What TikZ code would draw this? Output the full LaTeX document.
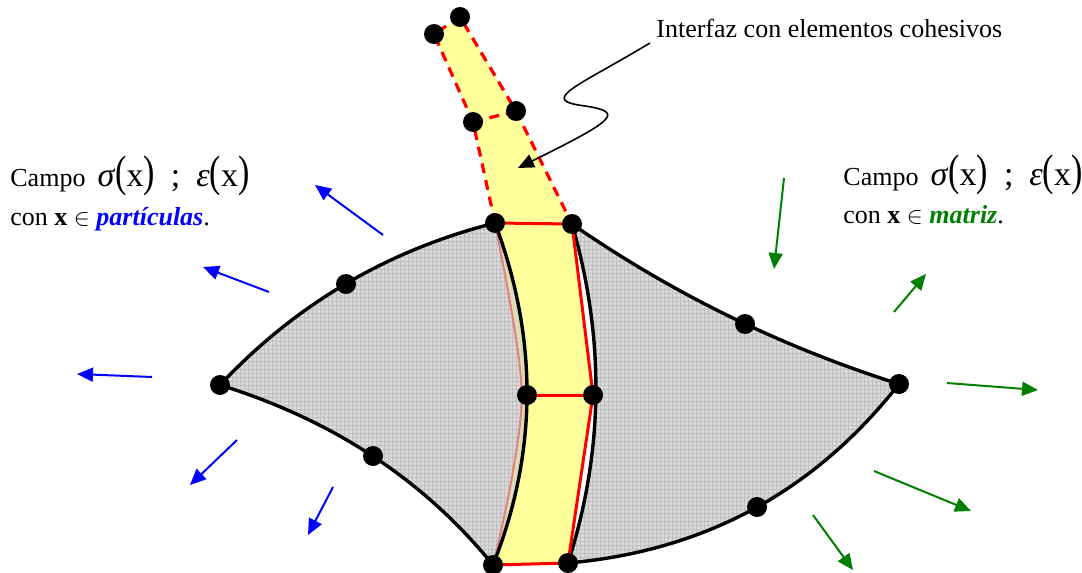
\documentclass[tikz,border=0pt]{standalone}
\usepackage{graphicx}
\usepackage{fontspec}
\setmainfont{Liberation Serif}
\usetikzlibrary{arrows.meta,patterns.meta}

\definecolor{partblue}{RGB}{0,0,255}
\definecolor{matgreen}{RGB}{0,128,0}
\definecolor{bandyellow}{RGB}{255,255,155}
\definecolor{cellgray}{RGB}{218,218,218}
\definecolor{gridgray}{RGB}{192,192,192}
\definecolor{slivercol}{RGB}{222,220,180}
\definecolor{seampink}{RGB}{226,128,128}

% tall parentheses for the field formula
\newcommand\tallparen[1]{\scalebox{1}[1.3]{#1}}
\newcommand\fieldlabel{Campo\hspace{6pt}{\fontsize{17}{17}\selectfont\textit{σ}\tallparen{(}x\tallparen{)}\hspace{8pt};\hspace{8pt}\textit{ε}\tallparen{(}x\tallparen{)}}}

\begin{document}
\begin{tikzpicture}[x=0.5pt,y=-0.5pt,
  dot/.style={circle,fill=black,inner sep=0pt,minimum size=10pt},
  edge/.style={line width=1.7pt,black,line join=round},
  seam/.style={line width=1.5pt,red},
  seamdash/.style={line width=1.6pt,red,dash pattern=on 5pt off 3.5pt},
  load/.style={line width=1pt,-{Triangle[length=8pt,width=7pt]}},
  txt/.style={inner sep=0pt,anchor=base west,font=\fontsize{13}{15}\selectfont},
  cell/.style={fill=cellgray,postaction={pattern={Hatch[angle=0,distance=2pt,line width=0.3pt]},pattern color=gridgray}}]
\useasboundingbox (0,0) rectangle (1082,573);

% mesh points
\coordinate (tA) at (434,34);
\coordinate (tB) at (460,17);
\coordinate (mL) at (473,122);
\coordinate (mR) at (516,111);
\coordinate (A)  at (495,223);
\coordinate (R1) at (572,224);
\coordinate (ML) at (527,395);
\coordinate (MR) at (593,395);
\coordinate (E)  at (493,565);
\coordinate (F)  at (568,563);
\coordinate (B)  at (346,284);
\coordinate (C)  at (220,385);
\coordinate (D)  at (373,456);
\coordinate (G)  at (745,324);
\coordinate (H)  at (899,384);
\coordinate (J)  at (757,507);
\coordinate (S)  at (522,394);

% particle (left) and matrix (right) domains
\path[cell] (A) .. controls (388,250) and (296,304) .. (C)
  .. controls (333,420) and (424,480) .. (E)
  .. controls (514,480) and (522,420) .. (S)
  .. controls (520,350) and (508,290) .. (A) -- cycle;
\fill[slivercol] (A) .. controls (508,290) and (520,350) .. (S)
  .. controls (522,420) and (514,480) .. (E)
  .. controls (538,452) and (538,338) .. (A) -- cycle;
\path[cell] (R1) .. controls (673,294) and (782,347) .. (H)
  .. controls (815,491) and (705,551) .. (F)
  .. controls (604,451) and (605,338) .. (R1) -- cycle;

% cohesive interface band
\fill[bandyellow] (A) .. controls (538,338) and (538,452) .. (E) -- (F) -- (MR) -- (R1) -- cycle;
\fill[bandyellow] (tA) -- (tB) -- (mR) -- (R1) -- (A) -- (mL) -- cycle;

% original particle boundary
\draw[seampink,line width=1pt] (A) .. controls (508,290) and (520,350) .. (S)
  .. controls (522,420) and (514,480) .. (E);

% domain outlines
\draw[edge] (C) .. controls (296,304) and (388,250) .. (A);
\draw[edge] (C) .. controls (333,420) and (424,480) .. (E);
\draw[edge] (A) .. controls (538,338) and (538,452) .. (E);
\draw[edge] (R1) .. controls (605,338) and (604,451) .. (F);
\draw[edge] (R1) .. controls (673,294) and (782,347) .. (H)
  .. controls (815,491) and (705,551) .. (F);

% interface elements
\draw[seam] (A) -- (R1) -- (MR) -- (F) -- (E);
\draw[seam] (ML) -- (MR);
\draw[seamdash] (A) -- (mL) -- (tA) -- (tB) -- (mR) -- (R1);
\draw[seamdash] (mL) -- (mR);

% nodes
\foreach \p in {tA,tB,mL,mR,A,R1,ML,MR,E,F,B,C,D,G,H,J}
  \node[dot] (n\p) at (\p) {};

% tractions on the particle
\coordinate (pa1) at (383,235); \coordinate (pb1) at (315,185);
\coordinate (pa2) at (269,292); \coordinate (pb2) at (203,267);
\coordinate (pa3) at (152,377); \coordinate (pb3) at (77,374);
\coordinate (pa4) at (237,440); \coordinate (pb4) at (190,485);
\coordinate (pa5) at (333,487); \coordinate (pb5) at (308,535);
\foreach \i in {1,...,5}
  \draw[load,partblue] (pa\i) -- (pb\i);

% tractions on the matrix
\coordinate (qa1) at (784,178); \coordinate (qb1) at (774,269);
\coordinate (qa2) at (894,312); \coordinate (qb2) at (926,274);
\coordinate (qa3) at (947,383); \coordinate (qb3) at (1038,390);
\coordinate (qa4) at (874,471); \coordinate (qb4) at (971,511);
\coordinate (qa5) at (813,515); \coordinate (qb5) at (853,570);
\foreach \i in {1,...,5}
  \draw[load,matgreen] (qa\i) -- (qb\i);

% labels
\node[txt] (lf1) at (10,186) {\fieldlabel};
\node[txt] (lf2) at (10,225) {con \textbf{x} $\in$ \textcolor{partblue}{\textbf{\textit{partículas}}}.};
\node[txt] (rf1) at (843,185) {\fieldlabel};
\node[txt] (rf2) at (843,223) {con \textbf{x} $\in$ \textcolor{matgreen}{\textbf{\textit{matriz}}}.};
\node[txt] (lbl) at (656,37) {Interfaz con elementos cohesivos};

% leader to the interface
\coordinate (lt) at (650,43);
\coordinate (lh) at (518,168);
\draw[line width=0.8pt,-{Triangle[length=8pt,width=7pt]}] (lt)
  .. controls (575,88) and (538,100) .. (585,106)
  .. controls (625,112) and (615,120) .. (lh);
\end{tikzpicture}
\end{document}
